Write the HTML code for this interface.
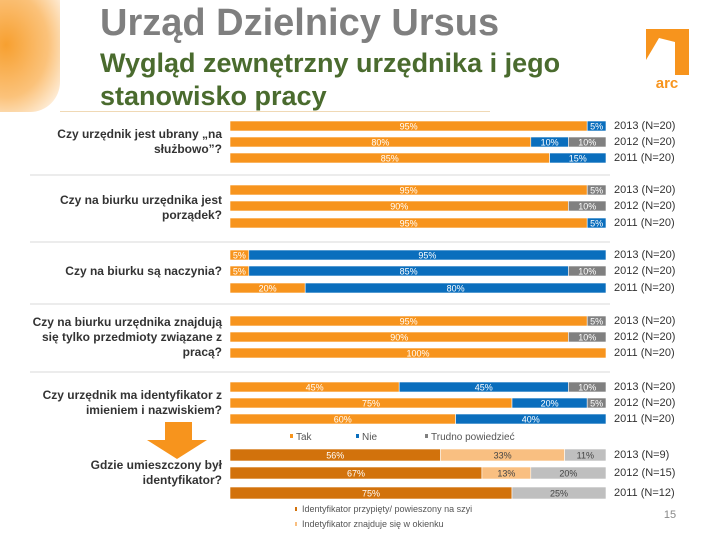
<!DOCTYPE html>
<html><head><meta charset="utf-8"><style>
body{margin:0;width:720px;height:540px;overflow:hidden;background:#fff;font-family:"Liberation Sans",sans-serif;position:relative}
.q{position:absolute;right:498px;text-align:right;font-weight:bold;color:#333;line-height:15px;font-family:"Liberation Sans",sans-serif;font-size:12px}
.t{position:absolute;font-size:11px;color:#333;line-height:16px;left:614px}
</style></head><body>
<div style="position:absolute;left:0;top:0;width:60px;height:112px;background:radial-gradient(ellipse at 10% 40%,#f7a030 0%,#fbc27a 55%,#fff 100%);border-bottom-right-radius:30px"></div>
<div style="position:absolute;left:60px;top:111px;width:430px;height:1px;background:#f0d9b5"></div>
<div style="position:absolute;left:100px;top:2px;font-size:38px;font-weight:bold;color:#7f7f7f">Urząd Dzielnicy Ursus</div>
<div style="position:absolute;left:100px;top:47px;font-size:27px;font-weight:bold;line-height:33px;color:#4a6b2e">Wygląd zewnętrzny urzędnika i jego<br>stanowisko pracy</div>
<svg style="position:absolute;left:645px;top:28px" width="50" height="70">
<path d="M1,1 H44 V47 H30 V14 L14,10 L1,32 Z" fill="#f7941d"/>
<rect x="1" y="51" width="44" height="10" fill="#fff"/>
<text x="22" y="60" font-size="15" font-weight="bold" fill="#f7941d" text-anchor="middle" font-family="Liberation Sans">arc</text></svg>
<div class="q" style="top:127px">Czy urzędnik jest ubrany „na<br>służbowo”?</div>
<div class="q" style="top:193px">Czy na biurku urzędnika jest<br>porządek?</div>
<div class="q" style="top:264px">Czy na biurku są naczynia?</div>
<div class="q" style="top:315px">Czy na biurku urzędnika znajdują<br>się tylko przedmioty związane z<br>pracą?</div>
<div class="q" style="top:388px">Czy urzędnik ma identyfikator z<br>imieniem  i nazwiskiem?</div>
<div class="q" style="top:458px">Gdzie umieszczony był<br>identyfikator?</div>
<svg style="position:absolute;left:145px;top:422px" width="64" height="38"><path d="M20,0 H47 V18 H62 L32,37 L2,18 H20 Z" fill="#f7941d"/></svg>
<svg id="c" width="720" height="540" style="position:absolute;left:0;top:0" font-family="Liberation Sans"></svg>
<script>
const groupsA=[[[95,5,0],[80,10,10],[85,15,0]],[[95,0,5],[90,0,10],[95,5,0]],[[5,95,0],[5,85,10],[20,80,0]],[[95,0,5],[90,0,10],[100,0,0]],[[45,45,10],[75,20,5],[60,40,0]]];
const groupB=[[56,33,11],[67,13,20],[75,0,25]];
const yearsA=["2013 (N=20)","2012 (N=20)","2011 (N=20)"];
const yearsB=["2013 (N=9)","2012 (N=15)","2011 (N=12)"];
const rowY=[[126,142,158],[190,206,223],[255,271,288],[321,337,353],[387,403,419]];
const rowYB=[455,473,493];
const colA=["#f7941d","#0a6ebd","#808080"];
const colB=["#d2720c","#f9bf81","#bfbfbf"];
const svg=document.getElementById('c');const NS="http://www.w3.org/2000/svg";
const X0=230,W=376;const xs=v=>X0+v/100*W;
function mk(t,a){const e=document.createElementNS(NS,t);for(const k in a)e.setAttribute(k,a[k]);svg.appendChild(e);return e;}
[175,242,304,372].forEach((y,i)=>{const l=mk('line',{x1:30,x2:610,y1:y,y2:y,stroke:'#d9d9d9'});

});
function bars(vals,y,cols,h){let acc=0;vals.forEach((v,j)=>{if(!v)return;
const r=mk('rect',{x:xs(acc),y:y-h/2,width:xs(acc+v)-xs(acc),height:h,fill:cols[j],stroke:'#fff','stroke-width':0.6});


const tx=mk('text',{x:(xs(acc)+xs(acc+v))/2,y:y+3.5,'font-size':9,fill:(cols===colB&&j>0)?'#444':'#fff','text-anchor':'middle'});


tx.textContent=v+'%';acc+=v;});}
groupsA.forEach((g,gi)=>g.forEach((vals,ri)=>{bars(vals,rowY[gi][ri],colA,10);
const t=document.createElement('div');t.className='t';t.style.top=(rowY[gi][ri]-8)+'px';t.textContent=yearsA[ri];


document.body.appendChild(t);}));
groupB.forEach((vals,ri)=>{bars(vals,rowYB[ri],colB,12);
const t=document.createElement('div');t.className='t';t.style.top=(rowYB[ri]-8)+'px';t.textContent=yearsB[ri];


document.body.appendChild(t);});
const legA=[["Tak",290],["Nie",356],["Trudno powiedzieć",425]];
legA.forEach((l,i)=>{const r=mk('rect',{x:l[1],y:434,width:3,height:4,fill:colA[i]});


const t=mk('text',{x:l[1]+6,y:440,'font-size':10,fill:'#555'});


t.textContent=l[0];});
const legB=[["Identyfikator przypięty/ powieszony na szyi",512],["Indetyfikator znajduje się w okienku",527]];
legB.forEach((l,i)=>{const r=mk('rect',{x:295,y:l[1]-5,width:2,height:4,fill:colB[i]});


const t=mk('text',{x:302,y:l[1],'font-size':9,fill:'#555'});


t.textContent=l[0];});
const pn=mk('text',{x:670,y:518,'font-size':11,fill:'#888','text-anchor':'middle'});


pn.textContent='15';
</script>
</body></html>
